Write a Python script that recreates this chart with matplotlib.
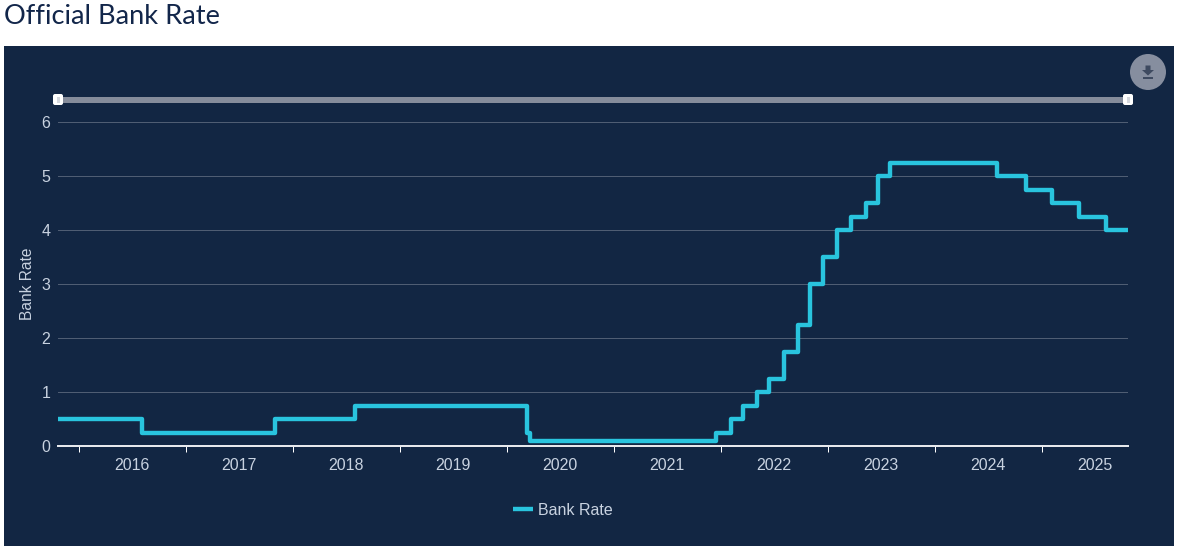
#!/usr/bin/env python3
"""Official Bank Rate step chart on a dark panel."""

import matplotlib
matplotlib.use("Agg")
import matplotlib.pyplot as plt
import pandas as pd
from matplotlib.patches import Circle, FancyBboxPatch, Polygon, Rectangle

change_dates = [
    "2015-10-22", "2016-08-04", "2017-11-02", "2018-08-02", "2020-03-11",
    "2020-03-19", "2021-12-16", "2022-02-03", "2022-03-17", "2022-05-05",
    "2022-06-16", "2022-08-04", "2022-09-22", "2022-11-03", "2022-12-15",
    "2023-02-02", "2023-03-23", "2023-05-11", "2023-06-22", "2023-08-03",
    "2024-08-01", "2024-11-07", "2025-02-06", "2025-05-08", "2025-08-07",
    "2025-10-22",
]
bank_rate = [
    0.5, 0.25, 0.5, 0.75, 0.25,
    0.1, 0.25, 0.5, 0.75, 1.0,
    1.25, 1.75, 2.25, 3.0, 3.5,
    4.0, 4.25, 4.5, 5.0, 5.25,
    5.0, 4.75, 4.5, 4.25, 4.0,
    4.0,
]
years = list(range(2016, 2026))
y_ticks = [0, 1, 2, 3, 4, 5, 6]

W, H = 1180, 551
NAVY = "#12264a"
PANEL = "#122643"
CYAN = "#29c4de"
LABEL = "#c8d2e0"
GRID = "#4f5d73"
px = 72 / 100  # one pixel in points

plt.rcParams["font.family"] = ["Liberation Sans", "DejaVu Sans"]

fig = plt.figure(figsize=(W / 100, H / 100), dpi=100, facecolor="white")

# page furniture in pixel coordinates
bg = fig.add_axes([0, 0, 1, 1], zorder=0)
bg.set_xlim(0, W)
bg.set_ylim(H, 0)
bg.axis("off")
bg.add_patch(Rectangle((4, 46), 1170, 500, fc=PANEL, ec="none"))
bg.text(4, 17, "Official Bank Rate", family=["Lato", "DejaVu Sans"], fontsize=27.3 * px,
        color=NAVY, va="center", ha="left")

# range slider above the plot
bg.add_patch(Rectangle((58, 96.5), 1070, 6, fc="#858c9b", ec="none"))
for hx in (58, 1128):
    bg.add_patch(FancyBboxPatch((hx - 3, 96), 6, 7, boxstyle="round,pad=2,rounding_size=2",
                                fc="white", ec="none", zorder=3))
    bg.add_patch(Rectangle((hx - 1.5, 96.5), 3, 6, fc="#d5d8de", ec="none", zorder=4))

# download button
bg.add_patch(Circle((1148, 72), 18, fc="#868e9f", ec="none"))
bg.add_patch(Polygon([(1145.5, 65.5), (1150.5, 65.5), (1150.5, 70), (1154, 70), (1148, 75.5),
                      (1142, 70), (1145.5, 70)], fc="#3e4a60", ec="none"))
bg.add_patch(Rectangle((1143, 77), 10, 1.8, fc="#3e4a60", ec="none"))

# plot area: x 58-1128 px, rate 6 at y=122 px, rate 0 at y=446 px
ax = fig.add_axes([58 / W, 1 - 446 / H, 1070 / W, 324 / H], zorder=1)
ax.patch.set_alpha(0)

dates = pd.to_datetime(change_dates)
ax.step(dates, bank_rate, where="post", color=CYAN, lw=4.4 * px, solid_joinstyle="round",
        solid_capstyle="butt", label="Bank Rate", zorder=3, clip_on=False)

ax.set_xlim(pd.Timestamp(change_dates[0]), pd.Timestamp(change_dates[-1]))
ax.set_ylim(0, 6)
ax.set_yticks(y_ticks)
ax.set_ylabel("Bank Rate", color=LABEL, fontsize=15.5 * px)
ax.yaxis.set_label_coords((35 - 58) / 1070, (446 - 284) / 324)
ax.grid(True, axis="y", color=GRID, lw=1 * px)
ax.set_axisbelow(True)
for side in ("top", "left", "right"):
    ax.spines[side].set_visible(False)
ax.spines["bottom"].set_color("#e6e8ec")
ax.spines["bottom"].set_linewidth(2 * px)
ax.spines["bottom"].set_zorder(2)

# ticks at each new year, labels centred on the year between them
ax.set_xticks([pd.Timestamp(f"{y}-01-01") for y in years])
ax.set_xticklabels([])
ax.set_xticks([pd.Timestamp(f"{y}-07-02") for y in years], minor=True)
ax.set_xticklabels([str(y) for y in years], minor=True)
ax.tick_params(axis="x", which="major", length=6 * px, width=1 * px, color="white")
ax.tick_params(axis="x", which="minor", length=0, pad=9, labelsize=16 * px, labelcolor=LABEL)
ax.tick_params(axis="y", length=0, pad=5.5, labelsize=16 * px, labelcolor=LABEL)

handles, labels = ax.get_legend_handles_labels()
leg = fig.legend(handles, labels, loc="center", bbox_to_anchor=(562.5 / W, 1 - 510.5 / H),
                 frameon=False, fontsize=16 * px, labelcolor=LABEL, handlelength=1.25,
                 handletextpad=0.3)

fig.savefig("out.png", dpi=100, facecolor="white")
plt.close(fig)
